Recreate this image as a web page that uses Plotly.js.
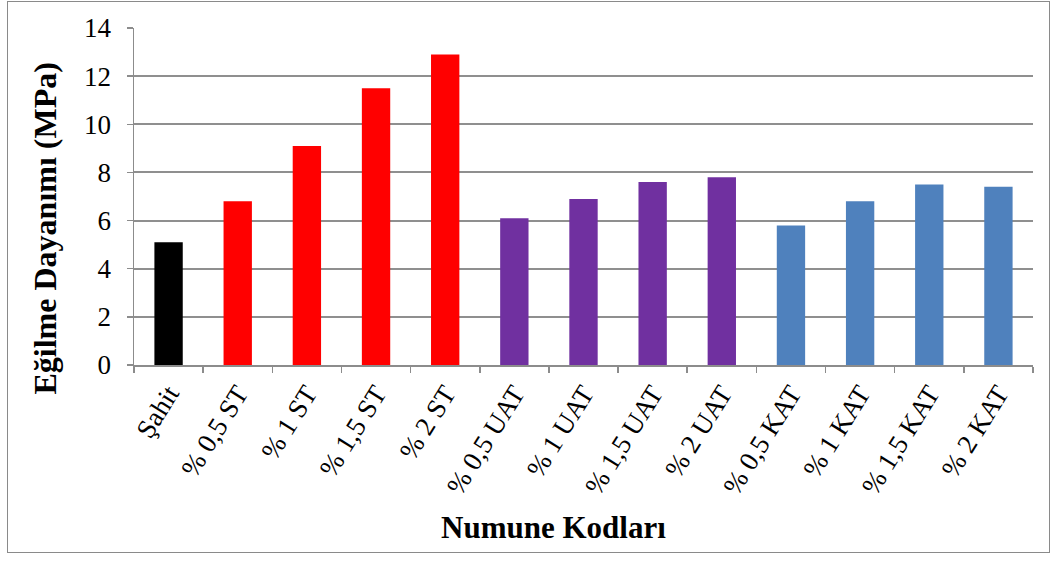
<!DOCTYPE html>
<html>
<head>
<meta charset="utf-8">
<script src="https://cdn.plot.ly/plotly-3.0.1.min.js"></script>
<style>
html,body{margin:0;padding:0;background:#fff;}
#wrap{position:relative;width:1057px;height:561px;}
#chart{width:1057px;height:561px;}
#frame{position:absolute;left:7px;top:1px;width:1041px;height:550px;border:1px solid #8a8a8a;pointer-events:none;}
</style>
</head>
<body>
<div id="wrap"><div id="chart"></div><div id="frame"></div></div>
<script>
const categories = ["Şahit","% 0,5 ST","% 1 ST","% 1,5 ST","% 2 ST","% 0,5 UAT","% 1 UAT","% 1,5 UAT","% 2 UAT","% 0,5 KAT","% 1 KAT","% 1,5 KAT","% 2 KAT"];
const values = [5.1, 6.8, 9.1, 11.5, 12.9, 6.1, 6.9, 7.6, 7.8, 5.8, 6.8, 7.5, 7.4];
const barColors = ["#000000","#FF0000","#FF0000","#FF0000","#FF0000","#7030A0","#7030A0","#7030A0","#7030A0","#4F81BD","#4F81BD","#4F81BD","#4F81BD"];
const yTitle = "Eğilme Dayanımı (MPa)";
const xTitle = "Numune Kodları";

const font = "Liberation Serif, Times New Roman, serif";
Plotly.newPlot("chart", [{
  type: "bar",
  x: categories,
  y: values,
  marker: {color: barColors, line: {width: 0}},
  hoverinfo: "x+y"
}], {
  width: 1057, height: 561,
  margin: {l: 134, r: 24, t: 28, b: 196},
  paper_bgcolor: "#fff", plot_bgcolor: "#fff",
  bargap: 0.59,
  showlegend: false,
  font: {family: font, color: "#000", size: 22},
  xaxis: {
    type: "category",
    tickangle: -58,
    tickfont: {family: font, size: 27, color: "#000"},
    ticks: "outside", tickson: "boundaries", ticklen: 6, tickcolor: "#8c8c8c", tickwidth: 1.5,
    showline: true, linecolor: "#8c8c8c", linewidth: 2,
    showgrid: false,
    automargin: false
  },
  yaxis: {
    range: [0, 14], dtick: 2,
    tickfont: {family: font, size: 27, color: "#000"},
    ticks: "outside", ticklen: 6, tickcolor: "#8c8c8c", tickwidth: 1.5,
    ticklabelstandoff: 10,
    showline: true, linecolor: "#8c8c8c", linewidth: 1.5,
    showgrid: true, gridcolor: "#8f8f8f", gridwidth: 2,
    zeroline: false,
    automargin: false
  },
  annotations: [
    {text: "<b>" + yTitle + "</b>", textangle: -90, xref: "paper", yref: "paper",
     x: -0.099, y: 0.405, xanchor: "center", yanchor: "middle", showarrow: false,
     font: {family: font, size: 32, color: "#000"}},
    {text: "<b>" + xTitle + "</b>", xref: "paper", yref: "paper",
     x: 0.467, y: -0.481, xanchor: "center", yanchor: "middle", showarrow: false,
     font: {family: font, size: 31, color: "#000"}}
  ]
}, {displayModeBar: false, staticPlot: true});
</script>
</body>
</html>
